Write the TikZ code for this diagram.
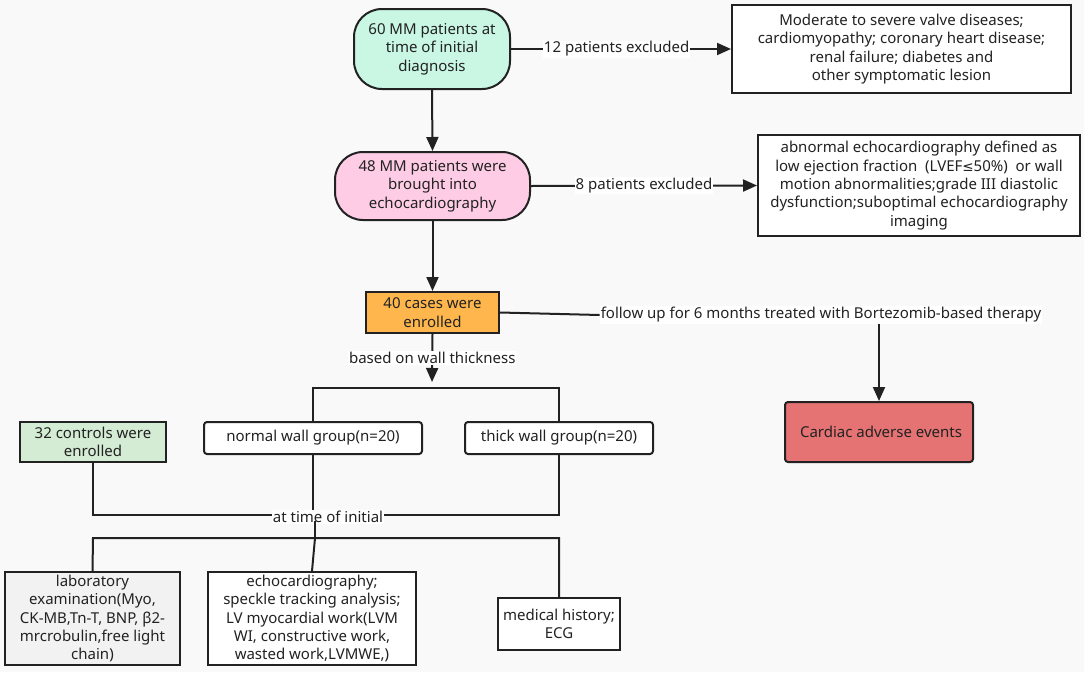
\documentclass[tikz,border=0pt]{standalone}
\usepackage{fontspec}
\setmainfont{Noto Sans}
\newfontfamily\djv{DejaVu Sans}
\usetikzlibrary{arrows.meta,calc}
\definecolor{bg}{HTML}{F9F9F9}
\definecolor{lc}{HTML}{222222}
\definecolor{mint}{HTML}{C9F7E4}
\definecolor{pinkf}{HTML}{FFCCE6}
\definecolor{orangef}{HTML}{FFB74D}
\definecolor{redf}{HTML}{E57373}
\definecolor{greenf}{HTML}{D3ECD3}
\definecolor{grayf}{HTML}{F2F2F2}
\newcommand{\fs}{\fontsize{15}{18.3}\selectfont}
\begin{document}
\begin{tikzpicture}[x=1pt,y=-1pt,
  box/.style={draw=lc, line width=2pt, align=center, inner sep=0pt, font=\fs, text=lc, fill=white},
  pill/.style={box, rounded corners=28pt},
  rbox/.style={box, rounded corners=3pt},
  lbl/.style={fill=white, inner sep=1pt, font=\fs, text=lc},
  conn/.style={draw=lc, line width=2pt},
  arr/.style={conn, -{Triangle[length=14pt,width=12pt]}}]
\useasboundingbox[fill=bg] (0,0) rectangle (1084,672);

% nodes
\node[pill, fill=mint, minimum width=156pt, minimum height=80pt] (n1) at (432,49)
  {60 MM patients at\\time of initial\\diagnosis};
\node[box, minimum width=339pt, minimum height=88pt] (ex1) at (901.5,49)
  {Moderate to severe valve diseases;\\cardiomyopathy; coronary heart disease;\\renal failure; diabetes and\\other symptomatic lesion};
\node[pill, fill=pinkf, minimum width=195pt, minimum height=68pt] (n2) at (432.5,186)
  {48 MM patients were\\brought into\\echocardiography};
\node[box, minimum width=322pt, minimum height=101pt] (ex2) at (919,185.5)
  {abnormal echocardiography defined as\\low ejection fraction\ \ (LVEF{\djv\fontsize{13.5}{18.3}\selectfont ≤}50\%)\ \ or wall\\motion abnormalities;grade III diastolic\\dysfunction;suboptimal echocardiography\\imaging};
\node[box, fill=orangef, minimum width=133pt, minimum height=41pt] (n3) at (432.5,312.5)
  {40 cases were\\enrolled};
\node[rbox, fill=redf, minimum width=188pt, minimum height=60pt] (card) at (879,432)
  {\hspace*{4pt}Cardiac adverse events};
\node[box, fill=greenf, minimum width=146pt, minimum height=40pt] (ctrl) at (93,442)
  {32 controls were\\enrolled};
\node[rbox, minimum width=218pt, minimum height=32pt] (normal) at (313,438)
  {normal wall group(n=20)};
\node[rbox, minimum width=188pt, minimum height=32pt] (thick) at (559,438)
  {thick wall group(n=20)};
\node[box, fill=grayf, minimum width=175pt, minimum height=93pt] (lab) at (92.5,618.5)
  {laboratory\\examination(Myo,\\CK-MB,Tn-T, BNP, β2-\\mrcrobulin,free light\\chain)};
\node[box, minimum width=208pt, minimum height=93pt] (echo) at (312,618.5)
  {echocardiography;\\speckle tracking analysis;\\LV myocardial work(LVM\\WI, constructive work,\\wasted work,LVMWE,)};
\node[box, minimum width=122pt, minimum height=52pt] (med) at (559,624)
  {medical history;\\ECG};

% coordinates
\coordinate (tip) at (432,382);
\coordinate (brl) at (313,388);
\coordinate (brr) at (559,388);
\coordinate (jn) at (313,511);
\coordinate (jm) at (328,515);
\coordinate (ja) at (315,521);
\coordinate (jb) at (315,538);
\coordinate (bl) at (93,538);
\coordinate (br) at (559,538);

% connectors
\draw[arr] (n1.east) -- node[lbl, pos=0.48] {12 patients excluded} (ex1.west);
\draw[arr] (n1.south) -- (n2.north);
\draw[arr] (n2.east) -- node[lbl, pos=0.5] {8 patients excluded} (ex2.west);
\draw[arr] (n2.south) -- (n3.north);
\node[lbl] (fu) at (821,315) {follow up for 6 months treated with Bortezomib-based therapy};
\draw[conn] (n3.east) -- (fu.west);
\draw[arr] (fu.south -| card.north) -- (card.north);
\draw[arr] (n3.south) -- node[lbl, pos=0.5] {based on wall thickness} (tip);
\draw[conn] (normal.north) -- (brl) -- (brr) -- (thick.north);
\draw[conn] (ctrl.south) |- (jm) -| (thick.south);
\draw[conn] (normal.south) -- (jn);
\node[lbl] (ati) at (328,517) {at time of initial};
\draw[conn] (ja) -- (jb);
\draw[conn] (lab.north) -- (bl) -- (br) -- (med.north);
\draw[conn] (jb) -- (echo.north);
\end{tikzpicture}
\end{document}
